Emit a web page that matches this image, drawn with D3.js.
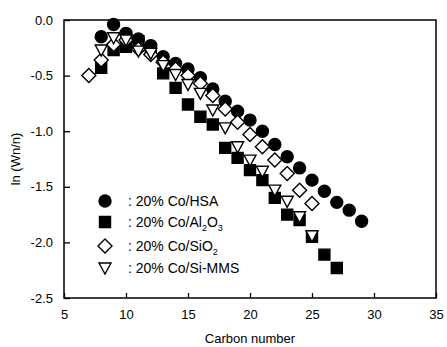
<!DOCTYPE html>
<html><head><meta charset="utf-8">
<script src="https://cdn.jsdelivr.net/npm/d3@7/dist/d3.min.js"></script>
<style>body{margin:0;background:#fff}svg{display:block}text{font-family:"Liberation Sans",Arial,sans-serif;fill:#000}</style>
</head><body><svg id="c" width="447" height="347"></svg>
<script>
// ---- data ----
const hsaN   = [8,9,10,11,12,13,14,15,16,17,18,19,20,21,22,23,24,25,26,27,28,29];
const hsaV   = [-0.15,-0.04,-0.12,-0.17,-0.23,-0.33,-0.39,-0.44,-0.52,-0.62,-0.73,-0.82,-0.90,-1.00,-1.12,-1.23,-1.33,-1.44,-1.54,-1.64,-1.71,-1.81];
const alN    = [8,9,10,11,12,13,14,15,16,17,18,19,20,21,22,23,24,25,26,27];
const alV    = [-0.43,-0.27,-0.24,-0.19,-0.27,-0.48,-0.61,-0.76,-0.87,-0.94,-1.15,-1.24,-1.35,-1.44,-1.60,-1.75,-1.80,-1.95,-2.11,-2.23];
const siN    = [7,8,9,10,11,12,13,14,15,16,17,18,19,20,21,22,23,24,25];
const siV    = [-0.50,-0.36,-0.22,-0.18,-0.26,-0.31,-0.38,-0.44,-0.50,-0.57,-0.68,-0.80,-0.92,-1.03,-1.14,-1.26,-1.38,-1.53,-1.65];
const mmsN   = [8,9,10,11,12,13,14,15,16,17,18,19,20,21,22,23,24,25];
const mmsV   = [-0.27,-0.16,-0.18,-0.28,-0.30,-0.41,-0.49,-0.58,-0.66,-0.81,-0.97,-1.14,-1.26,-1.36,-1.53,-1.63,-1.77,-1.94];
const xTicks = [5,10,15,20,25,30,35];
const yTicks = [0,-0.5,-1.0,-1.5,-2.0,-2.5];
const legendLabels = [
  [": 20% Co/HSA"],
  [": 20% Co/Al", "2", "O", "3"],
  [": 20% Co/SiO", "2"],
  [": 20% Co/Si-MMS"]
];

// ---- layout ----
const svg = d3.select("#c");
const L = 64, R = 436, T = 20, B = 298;
const x = d3.scaleLinear().domain([5,35]).range([L,R]);
const y = d3.scaleLinear().domain([-2.5,0]).range([B,T]);

// frame
svg.append("rect").attr("x",L).attr("y",T).attr("width",R-L).attr("height",B-T)
  .attr("fill","none").attr("stroke","#000").attr("stroke-width",1.5);

// axes
const xa = svg.append("g").attr("transform",`translate(0,${B})`)
  .call(d3.axisBottom(x).tickValues(xTicks).tickFormat(d3.format("d")).tickSizeInner(-5).tickSizeOuter(0).tickPadding(12));
const ya = svg.append("g").attr("transform",`translate(${L},0)`)
  .call(d3.axisLeft(y).tickValues(yTicks).tickFormat(d3.format(".1f")).tickSizeInner(-6).tickSizeOuter(0).tickPadding(11));
[xa,ya].forEach(g=>{
  g.select(".domain").remove();
  g.selectAll(".tick line").attr("stroke","#000").attr("stroke-width",1.3);
  g.selectAll(".tick text").style("font-size","13px").attr("fill","#000");
});
ya.selectAll(".tick text").text(d=>d3.format(".1f")(d).replace("−","-"));

// titles
svg.append("text").attr("x",(L+R)/2).attr("y",343).attr("text-anchor","middle")
  .style("font-size","13px").text("Carbon number");
svg.append("text").attr("transform",`translate(20,${(T+B)/2}) rotate(-90)`).attr("text-anchor","middle")
  .style("font-size","13px").text("ln (Wn/n)");

// symbols
const shapes = {
  circle: "M6,0A6,6 0 1,1 -6,0A6,6 0 1,1 6,0Z",
  square: "M-5.5,-5.5H5.5V5.5H-5.5Z",
  diamond: "M0,-7L7,0L0,7L-7,0Z",
  tri: "M-6,-5L6,-5L0,6Z"
};
const series = [
  {n:hsaN, v:hsaV, shape:"circle", fill:"#000"},
  {n:alN,  v:alV,  shape:"square", fill:"#000"},
  {n:siN,  v:siV,  shape:"diamond", fill:"#fff"},
  {n:mmsN, v:mmsV, shape:"tri", fill:"#fff"}
];
series.forEach(s=>{
  svg.append("g").selectAll("path").data(s.n.map((n,i)=>[n,s.v[i]])).join("path")
    .attr("d",shapes[s.shape])
    .attr("transform",d=>`translate(${x(d[0])},${y(d[1])})`)
    .attr("fill",s.fill).attr("stroke","#000").attr("stroke-width",1.4);
});

// legend
const legY = [201, 222, 246, 268];
series.forEach((s,i)=>{
  svg.append("path").attr("d",shapes[s.shape]).attr("transform",`translate(105,${legY[i]})`)
    .attr("fill",s.fill).attr("stroke","#000").attr("stroke-width",1.4);
  const t = svg.append("text").attr("x",128).attr("y",legY[i]+5).style("font-size","14px");
  const parts = legendLabels[i];
  parts.forEach((p,j)=>{
    const ts = t.append("tspan").text(p);
    if (j%2===1) ts.style("font-size","9px").attr("dy",4);
    else if (j>0) ts.attr("dy",-4);
  });
});
</script></body></html>
